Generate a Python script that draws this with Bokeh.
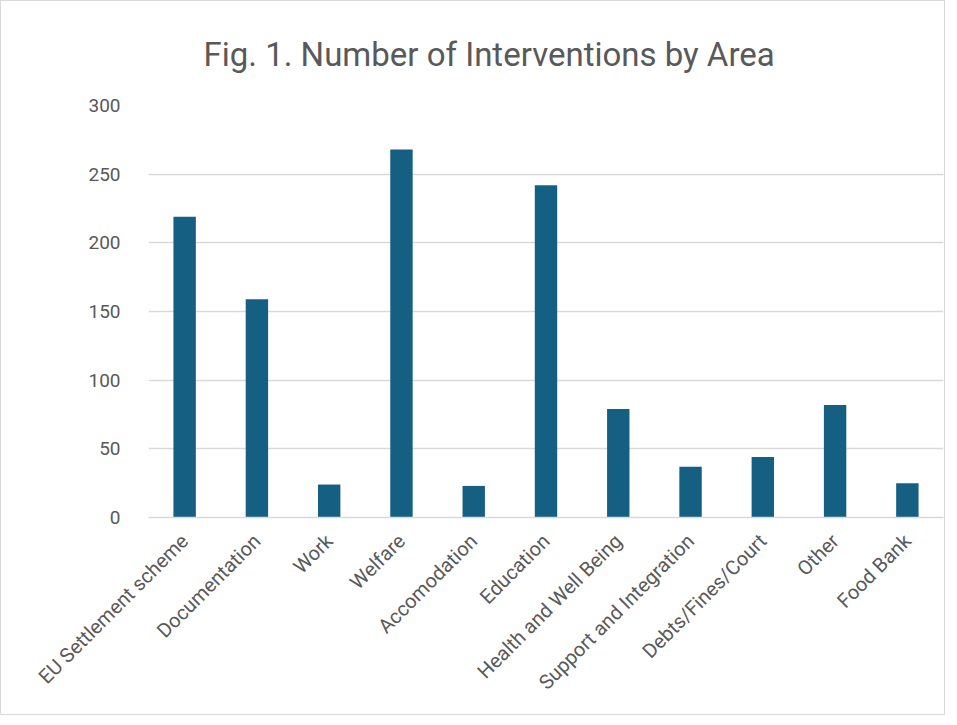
import math
from bokeh.plotting import figure
from bokeh.models import Title, Range1d, FactorRange
from bokeh.embed import file_html
from bokeh.resources import INLINE

categories = ["EU Settlement scheme", "Documentation", "Work", "Welfare", "Accomodation",
              "Education", "Health and Well Being", "Support and Integration",
              "Debts/Fines/Court", "Other", "Food Bank"]
values = [219, 159, 24, 268, 23, 242, 79, 37, 44, 82, 25]
y_ticks = [0, 50, 100, 150, 200, 250, 300]

p = figure(x_range=FactorRange(*categories), y_range=Range1d(0, 300),
           width=945, height=715, output_backend="svg", toolbar_location=None,
           min_border_left=147, min_border_right=3, min_border_top=104, min_border_bottom=199)
p.styles = {"border": "1.5px solid #d9d9d9"}

p.vbar(x=categories, top=values, width=0.31, fill_color="#156082", line_color=None)

p.add_layout(Title(text="Fig. 1. Number of Interventions by Area", align="left",
                   text_font="Roboto", text_font_size="33px", offset=55,
                   text_font_style="normal", text_color="#595959", standoff=63), "above")

p.x_range.range_padding = 0
p.x_range.factor_padding = 0
p.yaxis.ticker = y_ticks
p.yaxis.axis_line_color = None
p.yaxis.major_tick_line_color = None
p.yaxis.minor_tick_line_color = None
p.yaxis.major_label_standoff = 22
p.yaxis.major_label_text_font = "Roboto"
p.yaxis.major_label_text_font_size = "19px"
p.yaxis.major_label_text_color = "#595959"

p.xaxis.axis_line_color = "#d9d9d9"
p.xaxis.axis_line_width = 1.5
p.xaxis.major_tick_line_color = None
p.xaxis.minor_tick_line_color = None
p.xaxis.major_label_orientation = math.pi / 4
p.xaxis.major_label_standoff = 14
p.xaxis.major_label_text_font = "Roboto"
p.xaxis.major_label_text_font_size = "20px"
p.xaxis.major_label_text_color = "#595959"

p.xgrid.grid_line_color = None
p.ygrid.grid_line_color = "#d9d9d9"
p.ygrid.grid_line_width = 1.5
p.outline_line_color = None

open("out.html", "w").write(file_html(p, INLINE))
